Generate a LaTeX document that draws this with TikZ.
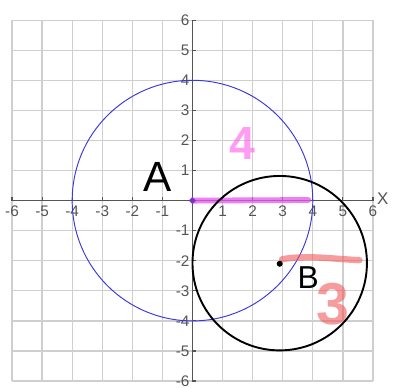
\documentclass[tikz,border=0pt]{standalone}
\usepackage{fontspec}
\setmainfont{Liberation Sans}
\usetikzlibrary{shapes.geometric}

\definecolor{gridgray}{HTML}{CFCFCF}
\definecolor{axisgray}{HTML}{555555}
\definecolor{circleblue}{HTML}{3A3AD8}
\definecolor{penpink}{HTML}{FF5CEB}
\definecolor{penred}{HTML}{F05A5A}
\definecolor{penviolet}{HTML}{E455EC}
\definecolor{dotpurple}{HTML}{7A35C8}

\begin{document}
\begin{tikzpicture}[
		x=1cm, y=1cm,
		% Line and label looks
		gridline/.style={gridgray, line width=1.2pt},
		axisline/.style={axisgray, line width=1.1pt},
		ticklabel/.style={text=axisgray, inner sep=1pt, font=\fontsize{14.5}{14.5}\selectfont},
		handmark/.style={inner sep=0pt, font=\bfseries}
		]
		
		% fix the margins of the picture
		\useasboundingbox (-6.4,-6.23) rectangle (6.7,6.67);
		
		% --- 1. THE GRID PAPER ---
		\draw[gridline] (-6,-6) grid (6,6);
		
		% --- 2. THE AXES WITH TICKS AND NUMBERS ---
		\draw[axisline] (-6,0) -- (6,0);
		\draw[axisline] (0,-6) -- (0,6);
		\foreach \k in {-6,...,-1,1,2,...,6} {
			\draw[axisline] (\k,0) -- (\k,0.12);
			\draw[axisline] (0,\k) -- (0.12,\k);
			\node[ticklabel, anchor=north] (xl\k) at (\k,-0.12) {\k};
		}
		\foreach \k in {-5,...,-1,1,2,...,6} {
			\node[ticklabel, anchor=east] (yl\k) at (-0.06,\k) {\k};
		}
		% lowest number sits on the bottom edge
		\node[ticklabel, anchor=south east] (yl-6) at (-0.06,-6.22) {-6};
		\node[ticklabel, anchor=west, font=\fontsize{16}{16}\selectfont] (xname) at (6.1,0.05) {X};
		
		% --- 3. CIRCLE A (centre at the origin) ---
		\draw[circleblue, line width=0.9pt] (0,0) circle (4);
		
		% Highlighted radius of A
		\draw[penviolet, opacity=0.75, line width=5.5pt, line cap=round] (0.05,0) -- (3.85,0.02);
		\node[diamond, fill=dotpurple, inner sep=0pt, minimum size=7pt] (centreA) at (0,0) {};
		
		\node[handmark, font=\fontsize{40}{40}\selectfont] (labelA) at (-1.17,0.78) {A};
		\node[handmark, text=penpink, opacity=0.6, font=\fontsize{44}{44}\selectfont\bfseries] (radiusA) at (1.65,1.9) {4};
		
		% --- 4. CIRCLE B (centre at (3,-2)) ---
		\draw[black, line width=1.8pt] (2.9,-2.08) circle (2.9);
		
		% Highlighted radius of B
		\draw[penred, opacity=0.6, line width=6pt, line cap=round]
			(2.98,-1.95) .. controls (3.8,-1.8) and (4.8,-1.95) .. (5.55,-1.98);
		\fill[black] (2.9,-2.1) circle (0.1);
		
		\node[handmark, font=\fontsize{30}{30}\selectfont] (labelB) at (3.85,-2.55) {B};
		\node[handmark, text=penred, opacity=0.6, font=\fontsize{56}{56}\selectfont\bfseries] (radiusB) at (4.68,-3.45) {3};
		
	\end{tikzpicture}
\end{document}
